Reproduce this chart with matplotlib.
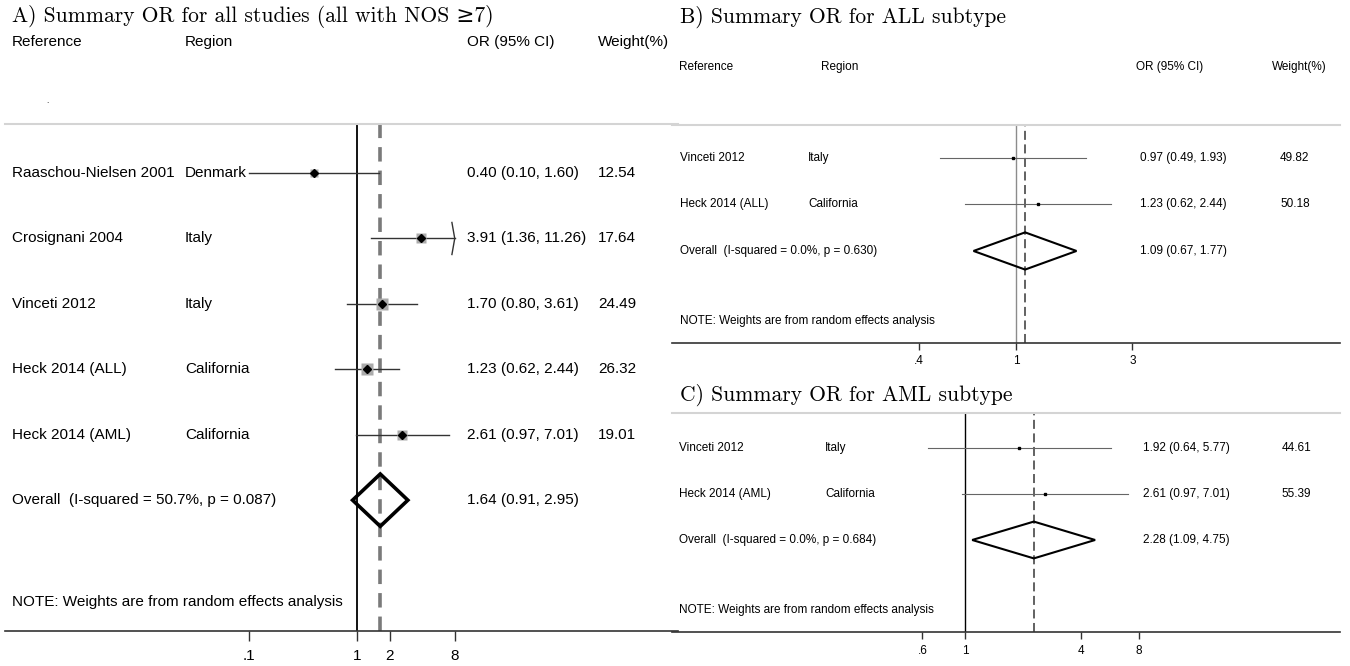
import numpy as np
import matplotlib
matplotlib.use("Agg")
import matplotlib.pyplot as plt

# Panel A: all studies
a_refs = ["Raaschou-Nielsen 2001", "Crosignani 2004", "Vinceti 2012", "Heck 2014 (ALL)", "Heck 2014 (AML)"]
a_regions = ["Denmark", "Italy", "Italy", "California", "California"]
a_or = [0.40, 3.91, 1.70, 1.23, 2.61]
a_lo = [0.10, 1.36, 0.80, 0.62, 0.97]
a_hi = [1.60, 11.26, 3.61, 2.44, 7.01]
a_weight = [12.54, 17.64, 24.49, 26.32, 19.01]
a_overall = (1.64, 0.91, 2.95)
a_overall_label = "Overall  (I-squared = 50.7%, p = 0.087)"
a_ticks = [0.1, 1, 2, 8]
a_ticklabels = [".1", "1", "2", "8"]

# Panel B: ALL subtype
b_refs = ["Vinceti 2012", "Heck 2014 (ALL)"]
b_regions = ["Italy", "California"]
b_or = [0.97, 1.23]
b_lo = [0.49, 0.62]
b_hi = [1.93, 2.44]
b_weight = [49.82, 50.18]
b_overall = (1.09, 0.67, 1.77)
b_overall_label = "Overall  (I-squared = 0.0%, p = 0.630)"
b_ticks = [0.4, 1, 3]
b_ticklabels = [".4", "1", "3"]

# Panel C: AML subtype
c_refs = ["Vinceti 2012", "Heck 2014 (AML)"]
c_regions = ["Italy", "California"]
c_or = [1.92, 2.61]
c_lo = [0.64, 0.97]
c_hi = [5.77, 7.01]
c_weight = [44.61, 55.39]
c_overall = (2.28, 1.09, 4.75)
c_overall_label = "Overall  (I-squared = 0.0%, p = 0.684)"
c_ticks = [0.6, 1, 4, 8]
c_ticklabels = [".6", "1", "4", "8"]

note = "NOTE: Weights are from random effects analysis"

W, H = 1350, 666
SANS = ["Liberation Sans", "DejaVu Sans"]
SERIF = ["cmr10", "DejaVu Serif"]
plt.rcParams["font.family"] = SANS
plt.rcParams["axes.unicode_minus"] = False

fig = plt.figure(figsize=(W / 100, H / 100), dpi=100)


def px_axes(x0, x1, y_top, y_bot):
    return fig.add_axes([x0 / W, 1 - y_bot / H, (x1 - x0) / W, (y_bot - y_top) / H])


def fmt_ci(o, lo, hi):
    return f"{o:.2f} ({lo:.2f}, {hi:.2f})"


def forest(ax, refs, regions, ors, los, his, weights, overall, overall_label,
           ticks, ticklabels, xlim, ylim, cols, fs, big=False, xmax=None,
           null_color="black", diamond_h=0.4, header=None, header_y=None,
           header_cols=None, note_y=None):
    ax.set_xscale("log")
    ax.set_xlim(*xlim)
    ax.set_ylim(*ylim)
    tr = ax.get_yaxis_transform()
    n = len(refs)

    # null line and pooled estimate line
    ax.axvline(1, color=null_color, lw=1.3 if big else 1.0, zorder=1)
    ax.axvline(overall[0], color="#7a7a7a" if big else "#555555",
               lw=2.6 if big else 1.3, ls=(0, (4, 2.5)) if big else (0, (5, 2.5)), zorder=1)

    for i in range(n):
        hi = his[i]
        clipped = xmax is not None and hi > xmax
        if clipped:
            hi = xmax
        ax.plot([los[i], hi], [i, i], color="#333333" if big else "#666666",
                lw=1.0 if big else 0.8, zorder=2)
        if clipped:
            # open arrow for a CI running off the scale
            ax.plot([xmax * np.exp(-0.06), xmax, xmax * np.exp(-0.06)],
                    [i - 0.245, i, i + 0.245], color="#333333", lw=1.0, zorder=2)
        if big:
            ax.plot(ors[i], i, marker="s", ms=9.3 * np.sqrt(weights[i] / 26.32),
                    color="#ababab", mec="none", zorder=3)
            ax.plot(ors[i], i, marker="D", ms=4.4, color="black", zorder=4)
        else:
            ax.plot(ors[i], i, marker="s", ms=2.1, color="black", zorder=4)

        ax.text(cols[0], i, refs[i], transform=tr, va="center", ha="left", fontsize=fs)
        ax.text(cols[1], i, regions[i], transform=tr, va="center", ha="left", fontsize=fs)
        ax.text(cols[2], i, fmt_ci(ors[i], los[i], his[i]), transform=tr,
                va="center", ha="left", fontsize=fs)
        ax.text(cols[3], i, f"{weights[i]:.2f}", transform=tr, va="center", ha="left", fontsize=fs)

    # pooled diamond
    o, lo, hi = overall
    ax.fill([lo, o, hi, o, lo], [n, n - diamond_h, n, n + diamond_h, n],
            facecolor="none", edgecolor="black", lw=2.6 if big else 1.5,
            joinstyle="miter", zorder=5)
    ax.text(cols[0], n, overall_label, transform=tr, va="center", ha="left", fontsize=fs)
    ax.text(cols[2], n, fmt_ci(o, lo, hi), transform=tr, va="center", ha="left", fontsize=fs)
    ax.text(cols[0], note_y, note, transform=tr, va="center", ha="left", fontsize=fs)

    if header:
        for x, t in zip(header_cols, header):
            ax.text(x, header_y, t, transform=tr, va="center", ha="left",
                    fontsize=fs, clip_on=False)

    ax.set_xticks(ticks)
    ax.set_xticklabels(ticklabels)
    ax.xaxis.set_minor_locator(matplotlib.ticker.NullLocator())
    ax.set_yticks([])
    for s in ["left", "right"]:
        ax.spines[s].set_visible(False)
    ax.spines["top"].set_color("#d4d4d4")
    ax.spines["top"].set_linewidth(1.5)
    ax.spines["bottom"].set_color("#333333")
    ax.spines["bottom"].set_linewidth(1.2)
    ax.tick_params(axis="x", direction="out", length=7 if big else 5,
                   width=1.0, color="#333333", pad=6 if big else 4,
                   labelsize=fs)
    ax.patch.set_alpha(0)


# Panel A
axA = px_axes(5, 678, 124, 631)
forest(axA, a_refs, a_regions, a_or, a_lo, a_hi, a_weight, a_overall, a_overall_label,
       a_ticks, a_ticklabels, (np.exp(-7.49), np.exp(6.83)), (7.0, -0.75),
       [0.0104, 0.2675, 0.6865, 0.881], 11, big=True, xmax=8, diamond_h=0.4,
       header=["Reference", "Region", "OR (95% CI)", "Weight(%)"], header_y=-2.0,
       header_cols=[0.0104, 0.2675, 0.6865, 0.881], note_y=6.55)
axA.text(0.063, -1.1, ".", transform=axA.get_yaxis_transform(), fontsize=6,
         ha="center", va="center", clip_on=False)

# Panel B
axB = px_axes(672, 1340, 125, 343)
forest(axB, b_refs, b_regions, b_or, b_lo, b_hi, b_weight, b_overall, b_overall_label,
       b_ticks, b_ticklabels, (np.exp(-3.245), np.exp(3.057)), (3.98, -0.71),
       [0.012, 0.2036, 0.6999, 0.9102], 8.5, null_color="#8c8c8c", diamond_h=0.4,
       header=["Reference", "Region", "OR (95% CI)", "Weight(%)"], header_y=-1.96,
       header_cols=[0.0105, 0.223, 0.6946, 0.898], note_y=3.5)

# Panel C
axC = px_axes(672, 1340, 413, 632)
forest(axC, c_refs, c_regions, c_or, c_lo, c_hi, c_weight, c_overall, c_overall_label,
       c_ticks, c_ticklabels, (np.exp(-3.509), np.exp(4.491)), (4.0, -0.76),
       [0.0105, 0.229, 0.705, 0.913], 8.5, diamond_h=0.4, note_y=3.52)

# panel titles
title_kw = dict(family=SERIF, fontsize=15.5, ha="left", va="center")
fig.text(12 / W, 1 - 17 / H, "A) Summary OR for all studies (all with NOS \u22657)", **title_kw)
fig.text(680 / W, 1 - 17 / H, "B) Summary OR for ALL subtype", **title_kw)
fig.text(680 / W, 1 - 395 / H, "C) Summary OR for AML subtype", **title_kw)

fig.savefig("out.png", dpi=100, facecolor="white")
